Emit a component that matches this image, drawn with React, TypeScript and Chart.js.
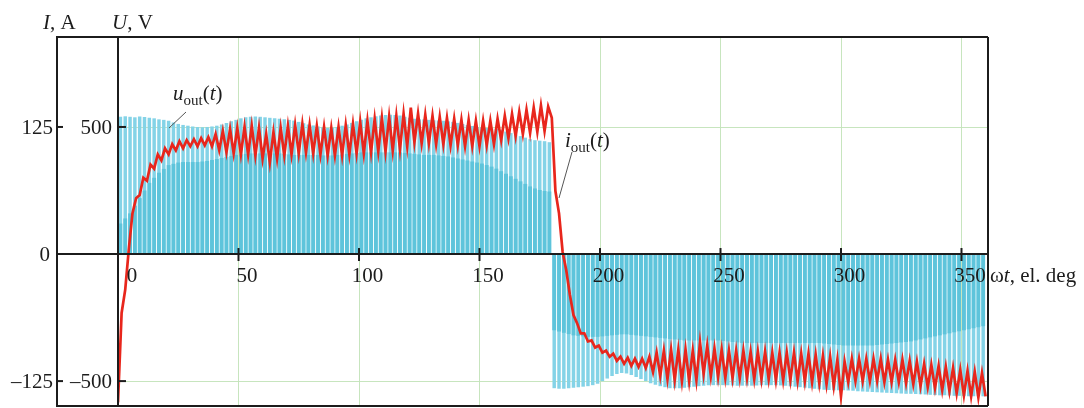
import React, { useEffect, useRef } from 'react';
import { Chart, registerables } from 'chart.js';

Chart.register(...registerables);

// ---------- data ----------
const xTickLabels = [0, 50, 100, 150, 200, 250, 300, 350];
const uTickValues = [500, -500];
const iTickValues = [125, 0, -125];
const xRange = [0, 361];
const uRange = [-598, 854];
const iRange = [-149.5, 213.5];

const pulseStepDeg = 2; // one PWM pulse every 2 el. deg
// pulse tops of u_out (V), positive half (0..180 deg)
const uTopPos = [
  540, 542, 540, 538, 541, 539, 536, 534, 530, 528,
  524, 518, 512, 508, 505,
  502, 500, 499, 500, 502, 505, 510, 516,
  522, 528, 534, 538, 540, 541, 540, 538,
  536, 534, 532, 530, 528, 525, 520, 515,
  510, 506, 502, 498, 496, 497, 500, 505,
  510, 516, 522, 528, 534, 538, 542, 545, 547,
  548, 547, 545, 540, 536, 532, 530, 530, 528,
  526, 525, 524, 522, 520, 516, 512, 508, 504, 500,
  498, 496, 494, 492, 488, 482, 476, 470,
  464, 458, 452, 448, 446, 444, 440,
];
// densely switched part of u_out (V), positive half
const uDensePos = [
  120, 140, 160, 190, 220, 250, 280, 300, 320, 335,
  350, 355, 360, 362, 362,
  362, 362, 364, 366, 370, 374, 378, 382,
  386, 390, 392, 394, 396, 396, 396, 396,
  396, 396, 396, 394, 392, 390, 390, 390,
  390, 390, 390, 388, 388, 388, 390, 392,
  394, 396, 398, 400, 400, 400, 400, 400, 400,
  400, 400, 400, 398, 396, 394, 392, 390, 390,
  390, 388, 386, 384, 380, 376, 372, 368, 364, 360,
  356, 350, 344, 336, 326, 316, 306, 296,
  286, 276, 266, 258, 252, 248, 246,
];
// pulse tops of u_out (V), negative half (180..360 deg)
const uTopNeg = [
  -528, -530, -530, -528, -526, -524, -522, -520, -516, -510,
  -500, -490, -480, -472, -468, -470, -476, -484,
  -492, -500, -508, -514, -520, -524, -528, -528,
  -528, -526, -524, -522, -520, -518, -516, -516, -516,
  -516, -516, -517, -518, -518, -518, -518, -517, -516, -516,
  -516, -516, -517, -518, -520, -522, -524, -526, -528, -530,
  -532, -534, -535, -536, -536, -536, -537, -538, -540, -541,
  -542, -543, -544, -545, -546, -547, -548, -549, -550, -550,
  -551, -552, -553, -554, -555, -556, -556, -557,
  -558, -558, -559, -560, -560, -560, -560,
];
// densely switched part of u_out (V), negative half
const uDenseNeg = [
  -300, -305, -310, -315, -320, -322, -324, -326, -326, -326,
  -324, -322, -320, -318, -316, -316, -318, -320,
  -322, -324, -326, -328, -330, -332, -334, -336,
  -338, -340, -340, -340, -340, -340, -340, -340, -340,
  -342, -344, -346, -348, -350, -350, -350, -350, -350, -350,
  -350, -350, -350, -350, -350, -350, -350, -350, -350, -350,
  -350, -352, -354, -356, -358, -360, -360, -360, -360, -360,
  -360, -360, -358, -356, -354, -352, -350, -348, -346, -344,
  -340, -336, -332, -328, -324, -320, -316, -312,
  -308, -304, -300, -296, -292, -288, -284,
];

const iStepDeg = 1.5; // i_out sampled every 1.5 el. deg
const iOut = [
  -146, -58, -35, 5, 40, 55, 58, 75, 72, 88,
  84, 98, 92, 104, 98, 108, 102, 111, 104, 112,
  106, 113, 106, 114, 107, 115, 106, 118, 102, 121,
  100, 123, 99, 124, 98, 125, 98, 126, 97, 124,
  94, 118, 90, 120, 94, 124, 97, 126, 98, 127,
  99, 128, 100, 127, 99, 126, 98, 125, 97, 124,
  97, 125, 97, 127, 98, 128, 99, 130, 99, 131,
  100, 133, 101, 134, 101, 135, 102, 136, 103, 138,
  106, 144, 110, 138, 109, 137, 109, 136, 108, 135,
  108, 134, 107, 133, 107, 132, 106, 132, 106, 131,
  106, 131, 107, 131, 108, 133, 112, 136, 114, 138,
  116, 140, 118, 142, 119, 144, 120, 146, 121, 145,
  134, 62, 40, 2, -16, -40, -60, -68, -78, -78,
  -86, -85, -92, -90, -97, -95, -101, -98, -105, -101,
  -108, -102, -110, -103, -111, -103, -112, -101, -116, -97,
  -120, -95, -123, -94, -124, -94, -125, -94, -125, -95,
  -124, -87, -118, -90, -120, -93, -121, -94, -122, -95,
  -122, -95, -122, -95, -122, -96, -123, -96, -123, -96,
  -123, -97, -124, -97, -124, -97, -124, -97, -125, -98,
  -125, -98, -126, -99, -127, -100, -128, -101, -130, -104,
  -140, -106, -126, -103, -125, -103, -125, -103, -125, -103,
  -125, -103, -126, -104, -126, -104, -126, -104, -127, -105,
  -128, -106, -130, -108, -131, -109, -132, -110, -134, -111,
  -135, -112, -137, -114, -139, -115, -140, -116, -141, -117,
  -140,
];

// ---------- styling ----------
const SERIF = '"Liberation Serif", "Times New Roman", serif';
const FS = 21;
const INK = '#1c1c1c';
const I_AXIS_X = 57;

type Part = { t: string; it?: boolean; sub?: boolean };

function drawRich(ctx: CanvasRenderingContext2D, x: number, y: number, parts: Part[], align: 'left' | 'right' | 'center' = 'left', size = FS) {
  const fontFor = (p: Part) => `${p.it ? 'italic ' : ''}${p.sub ? Math.round(size * 0.72) : size}px ${SERIF}`;
  let w = 0;
  for (const p of parts) { ctx.font = fontFor(p); w += ctx.measureText(p.t).width; }
  let cx = align === 'left' ? x : align === 'right' ? x - w : x - w / 2;
  ctx.textAlign = 'left';
  ctx.textBaseline = 'alphabetic';
  for (const p of parts) {
    ctx.font = fontFor(p);
    ctx.fillText(p.t, cx, p.sub ? y + size * 0.22 : y);
    cx += ctx.measureText(p.t).width;
  }
}

function seg(ctx: CanvasRenderingContext2D, x1: number, y1: number, x2: number, y2: number) {
  ctx.beginPath(); ctx.moveTo(x1, y1); ctx.lineTo(x2, y2); ctx.stroke();
}

const decor = {
  id: 'decor',
  beforeDatasetsDraw(chart: any) {
    const { ctx, chartArea: a, scales } = chart;
    ctx.save();
    ctx.strokeStyle = 'rgba(196,228,186,0.95)';
    ctx.lineWidth = 1;
    for (const t of xTickLabels) {
      if (t === 0) continue;
      const px = Math.round(scales.x.getPixelForValue(t)) + 0.5;
      seg(ctx, px, a.top, px, a.bottom);
    }
    for (const v of uTickValues) {
      const py = Math.round(scales.yU.getPixelForValue(v)) + 0.5;
      seg(ctx, a.left, py, a.right, py);
    }
    ctx.restore();
  },
  afterDatasetsDraw(chart: any) {
    const { ctx, chartArea: a, scales } = chart;
    const x0 = scales.x.getPixelForValue(0);
    const y0 = scales.yU.getPixelForValue(0);
    ctx.save();
    ctx.strokeStyle = INK;
    ctx.fillStyle = INK;
    ctx.lineWidth = 2;
    // frame and axes
    seg(ctx, I_AXIS_X, a.top, a.right, a.top);
    seg(ctx, a.right, a.top, a.right, a.bottom);
    seg(ctx, I_AXIS_X, a.bottom, a.right, a.bottom);
    seg(ctx, I_AXIS_X, a.top - 1, I_AXIS_X, a.bottom + 1);
    seg(ctx, x0, a.top - 1, x0, a.bottom + 1);
    seg(ctx, I_AXIS_X, y0, a.right, y0);
    // y ticks
    for (const v of iTickValues) {
      if (v === 0) continue;
      const py = scales.yI.getPixelForValue(v);
      seg(ctx, I_AXIS_X, py, I_AXIS_X + 6, py);
    }
    for (const v of uTickValues) {
      const py = scales.yU.getPixelForValue(v);
      seg(ctx, x0, py, x0 + 8, py);
    }
    // x ticks
    for (const t of xTickLabels) {
      if (t === 0) continue;
      const px = scales.x.getPixelForValue(t);
      seg(ctx, px, y0 - 6, px, y0 + 7);
    }
    // tick labels
    for (const v of iTickValues) {
      const py = scales.yI.getPixelForValue(v);
      const s = v < 0 ? '\u2013' + Math.abs(v) : String(v);
      drawRich(ctx, v === 0 ? I_AXIS_X - 7 : I_AXIS_X - 4, py + 7, [{ t: s }], 'right');
    }
    for (const v of uTickValues) {
      const py = scales.yU.getPixelForValue(v);
      const s = v < 0 ? '\u2013' + Math.abs(v) : String(v);
      drawRich(ctx, x0 - 6, py + 7, [{ t: s }], 'right');
    }
    for (const t of xTickLabels) {
      const px = scales.x.getPixelForValue(t);
      drawRich(ctx, px + (t === 0 ? 14 : 8.5), y0 + 28, [{ t: String(t) }], 'center');
    }
    // axis titles
    drawRich(ctx, 43, 29, [{ t: 'I', it: true }, { t: ', A' }]);
    drawRich(ctx, 112, 29, [{ t: 'U', it: true }, { t: ', V' }]);
    drawRich(ctx, a.right + 2, y0 + 28, [{ t: '\u03c9' }, { t: 't', it: true }, { t: ', el. deg' }]);
    // curve labels
    drawRich(ctx, 173, 100, [{ t: 'u', it: true }, { t: 'out', sub: true }, { t: '(' }, { t: 't', it: true }, { t: ')' }]);
    drawRich(ctx, 565, 147, [{ t: 'i', it: true }, { t: 'out', sub: true }, { t: '(' }, { t: 't', it: true }, { t: ')' }]);
    ctx.strokeStyle = '#555';
    ctx.lineWidth = 1;
    seg(ctx, 169, 128, 186, 112);
    seg(ctx, 572, 152, 559, 198);
    ctx.restore();
  },
};

export default function App() {
  const ref = useRef<HTMLCanvasElement | null>(null);
  useEffect(() => {
    if (!ref.current) return;
    const uTop = [...uTopPos, ...uTopNeg];
    const uDense = [...uDensePos, ...uDenseNeg];
    const pulseX = (i: number) => pulseStepDeg / 2 + i * pulseStepDeg;
    const chart = new Chart(ref.current, {
      type: 'bar',
      data: {
        datasets: [
          {
            type: 'line',
            label: 'i_out',
            data: iOut.map((v, i) => ({ x: i * iStepDeg, y: v })),
            xAxisID: 'x',
            yAxisID: 'yI',
            borderColor: '#e8261c',
            borderWidth: 2.7,
            pointRadius: 0,
            tension: 0,
            order: 0,
          } as any,
          {
            type: 'bar',
            label: 'u_out dense',
            data: uDense.map((v, i) => ({ x: pulseX(i), y: v })),
            xAxisID: 'x',
            yAxisID: 'yU',
            backgroundColor: 'rgb(94,196,219)',
            grouped: false,
            categoryPercentage: 1,
            barPercentage: 0.8,
            order: 1,
          } as any,
          {
            type: 'bar',
            label: 'u_out',
            data: uTop.map((v, i) => ({ x: pulseX(i), y: v })),
            xAxisID: 'x',
            yAxisID: 'yU',
            backgroundColor: 'rgb(132,211,231)',
            grouped: false,
            categoryPercentage: 1,
            barPercentage: 0.72,
            order: 2,
          } as any,
        ],
      },
      options: {
        animation: false,
        responsive: false,
        devicePixelRatio: 1,
        layout: { padding: { left: 118, right: 96, top: 37, bottom: 2 } },
        plugins: { legend: { display: false }, tooltip: { enabled: false } },
        scales: {
          x: { type: 'linear', min: xRange[0], max: xRange[1], display: false, offset: false },
          yU: { type: 'linear', position: 'left', min: uRange[0], max: uRange[1], display: false },
          yI: { type: 'linear', position: 'left', min: iRange[0], max: iRange[1], display: false },
        },
      },
      plugins: [decor],
    });
    return () => chart.destroy();
  }, []);
  return (
    <div style={{ position: 'absolute', left: 0, top: 0, width: 1084, height: 408, background: '#fff' }}>
      <canvas ref={ref} width={1084} height={408} style={{ display: 'block' }} />
    </div>
  );
}
